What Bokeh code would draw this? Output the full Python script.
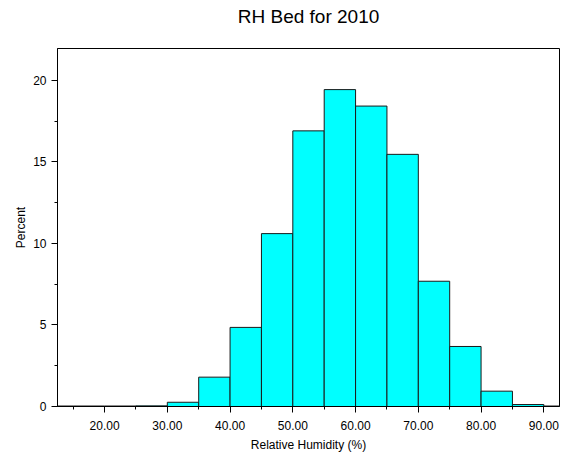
from bokeh.plotting import figure
from bokeh.models import FixedTicker, PrintfTickFormatter, Range1d, ColumnDataSource, Title
from bokeh.embed import file_html
from bokeh.resources import INLINE

bin_left = [10, 15, 20, 25, 30, 35, 40, 45, 50, 55, 60, 65, 70, 75, 80, 85, 90]
bin_width = 5
percent = [0.03, 0.03, 0.03, 0.04, 0.26, 1.8, 4.85, 10.6, 16.9, 19.43, 18.42,
           15.46, 7.68, 3.68, 0.94, 0.12, 0.03]
x_ticks = [20, 30, 40, 50, 60, 70, 80, 90]
x_minor = [15, 25, 35, 45, 55, 65, 75, 85]
y_ticks = [0, 5, 10, 15, 20]
y_minor = [2.5, 7.5, 12.5, 17.5]
title_text = "RH Bed for 2010"

src = ColumnDataSource(dict(
    left=bin_left,
    right=[b + bin_width for b in bin_left],
    top=percent,
    bottom=[0] * len(percent),
))

FONT = "Liberation Sans"

p = figure(width=571, height=455, output_backend="svg", toolbar_location=None,
           x_range=Range1d(12.5, 92.5), y_range=Range1d(0, 21.95),
           title=title_text,
           min_border_left=57, min_border_right=12, min_border_top=48,
           min_border_bottom=49)

p.quad(left="left", right="right", top="top", bottom="bottom", source=src,
       fill_color="#00FFFF", line_color="#1a1a1a", line_width=1)

p.title.align = "center"
p.title.text_font = FONT
p.title.text_font_size = "19px"
p.title.text_font_style = "normal"
p.title.text_color = "black"
p.title.standoff = 0

# empty spacer between the title and the frame
spacer = Title(text=" ", text_font_size="1px", standoff=19)
p.add_layout(spacer, "above")

p.grid.visible = False
p.outline_line_color = "black"
p.outline_line_width = 1
p.background_fill_color = "white"
p.border_fill_color = "white"

for ax in (p.xaxis[0], p.yaxis[0]):
    ax.axis_line_color = "black"
    ax.major_tick_line_color = "black"
    ax.minor_tick_line_color = "black"
    ax.major_tick_out = 6
    ax.major_tick_in = 0
    ax.minor_tick_out = 3
    ax.minor_tick_in = 0
    ax.major_label_text_font = FONT
    ax.major_label_text_font_size = "12px"
    ax.major_label_text_color = "black"
    ax.axis_label_text_font = FONT
    ax.axis_label_text_font_size = "12px"
    ax.axis_label_text_font_style = "normal"
    ax.axis_label_text_color = "black"

p.xaxis.ticker = FixedTicker(ticks=x_ticks, minor_ticks=x_minor)
p.xaxis.formatter = PrintfTickFormatter(format="%.2f")
p.xaxis.axis_label = "Relative Humidity (%)"
p.xaxis.major_label_standoff = 8
p.xaxis.axis_label_standoff = 5

p.yaxis.ticker = FixedTicker(ticks=y_ticks, minor_ticks=y_minor)
p.yaxis.axis_label = "Percent"
p.yaxis.major_label_standoff = 5
p.yaxis.axis_label_standoff = 2

open("out.html", "w").write(file_html(p, INLINE))
